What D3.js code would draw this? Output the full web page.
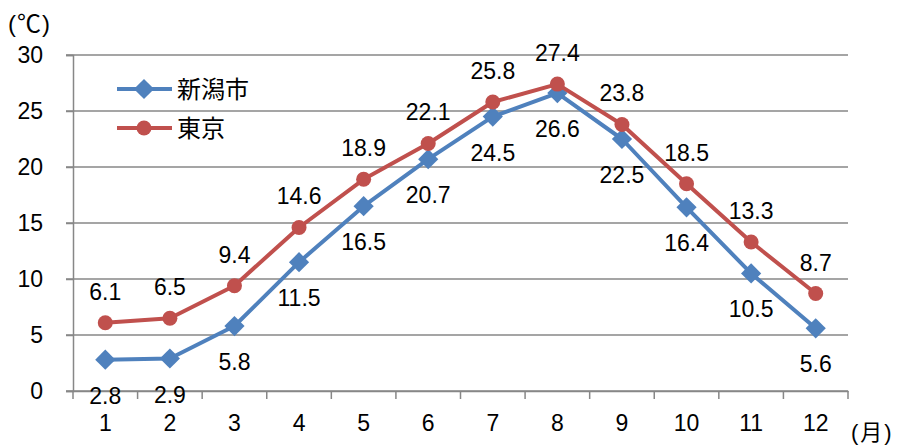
<!DOCTYPE html>
<html><head><meta charset="utf-8">
<script src="https://cdn.jsdelivr.net/npm/d3@7"></script>
<style>body{margin:0;background:#fff}</style>
</head><body>
<svg id="c" width="902" height="446"></svg>
<script>
const months = ["1","2","3","4","5","6","7","8","9","10","11","12"];
const niigata = [2.8,2.9,5.8,11.5,16.5,20.7,24.5,26.6,22.5,16.4,10.5,5.6];
const tokyo = [6.1,6.5,9.4,14.6,18.9,22.1,25.8,27.4,23.8,18.5,13.3,8.7];
const yTicks = [0,5,10,15,20,25,30];
const seriesNames = ["新潟市","東京"];

const font = "Arial, 'Liberation Sans', 'Noto Sans CJK JP', sans-serif";
const cjk = "'Noto Sans CJK JP', sans-serif";
const svg = d3.select("#c");
const L = 73, R = 848, T = 55, B = 391;
const x = d3.scaleBand().domain(months).range([L, R]);
const y = d3.scaleLinear().domain([0, 30]).range([B, T]);
const blue = "#4F81BD", red = "#C0504D", grid = "#878787";
const fs = 23;

// gridlines
svg.append("g").selectAll("line").data(yTicks).join("line")
  .attr("x1", L - 7).attr("x2", R).attr("y1", d => y(d)).attr("y2", d => y(d))
  .attr("stroke", grid).attr("stroke-width", 1.5);
// y axis
const ya = svg.append("g").attr("transform", `translate(${L},0)`)
  .call(d3.axisLeft(y).tickValues(yTicks).tickSize(7).tickPadding(23));
ya.select(".domain").attr("stroke", grid).attr("stroke-width", 1.5);
ya.selectAll("line").attr("stroke", grid).attr("stroke-width", 1.5);
ya.selectAll("text").attr("font-family", font).attr("font-size", fs).attr("fill", "#000");
// x axis
const xa = svg.append("g").attr("transform", `translate(0,${B})`)
  .call(d3.axisBottom(x).tickSize(0).tickPadding(24));
xa.select(".domain").attr("stroke", grid).attr("stroke-width", 1.5);
xa.selectAll("text").attr("font-family", font).attr("font-size", fs).attr("fill", "#000");
const bounds = months.map((m, i) => x(m)).concat([R]);
svg.append("g").selectAll("line").data(bounds).join("line")
  .attr("x1", d => d).attr("x2", d => d).attr("y1", B).attr("y2", B + 8)
  .attr("stroke", grid).attr("stroke-width", 1.5);

const cx = m => x(m) + x.bandwidth() / 2;
const line = d3.line().x((d, i) => cx(months[i])).y(d => y(d));

// Niigata
svg.append("path").datum(niigata).attr("d", line).attr("fill", "none")
  .attr("stroke", blue).attr("stroke-width", 4).attr("stroke-linejoin", "round");
svg.append("g").selectAll("path").data(niigata).join("path")
  .attr("d", d3.symbol(d3.symbolDiamond2 || d3.symbolDiamond, 260)())
  .attr("transform", (d, i) => `translate(${cx(months[i])},${y(d)})`)
  .attr("fill", blue);
// Tokyo
svg.append("path").datum(tokyo).attr("d", line).attr("fill", "none")
  .attr("stroke", red).attr("stroke-width", 4).attr("stroke-linejoin", "round");
svg.append("g").selectAll("circle").data(tokyo).join("circle")
  .attr("cx", (d, i) => cx(months[i])).attr("cy", d => y(d)).attr("r", 7.5)
  .attr("fill", red);

// labels
svg.append("g").selectAll("text").data(niigata).join("text")
  .attr("x", (d, i) => cx(months[i])).attr("y", d => y(d) + 44)
  .attr("text-anchor", "middle").attr("font-family", font).attr("font-size", fs)
  .text(d => d.toFixed(1));
svg.append("g").selectAll("text").data(tokyo).join("text")
  .attr("x", (d, i) => cx(months[i])).attr("y", d => y(d) - 23)
  .attr("text-anchor", "middle").attr("font-family", font).attr("font-size", fs)
  .text(d => d.toFixed(1));

// legend
const leg = [{n: seriesNames[0], c: blue, s: "d", y: 89}, {n: seriesNames[1], c: red, s: "c", y: 128}];
leg.forEach(l => {
  svg.append("line").attr("x1", 117).attr("x2", 172).attr("y1", l.y).attr("y2", l.y)
    .attr("stroke", l.c).attr("stroke-width", 4);
  if (l.s === "d") svg.append("path").attr("d", d3.symbol(d3.symbolDiamond2 || d3.symbolDiamond, 260)())
    .attr("transform", `translate(144,${l.y})`).attr("fill", l.c);
  else svg.append("circle").attr("cx", 144).attr("cy", l.y).attr("r", 7.5).attr("fill", l.c);
  svg.append("text").attr("x", 177).attr("y", l.y + 9).attr("font-family", cjk)
    .attr("font-size", 24).text(l.n);
});

// unit labels
svg.append("text").attr("x", 8).attr("y", 32).attr("font-family", font).attr("font-size", 24)
  .attr("letter-spacing", 1).text("(℃)");
svg.append("text").attr("x", 851).attr("y", 440).attr("font-family", font).attr("font-size", 22)
  .attr("letter-spacing", 2).text("(月)");
</script>
</body></html>
